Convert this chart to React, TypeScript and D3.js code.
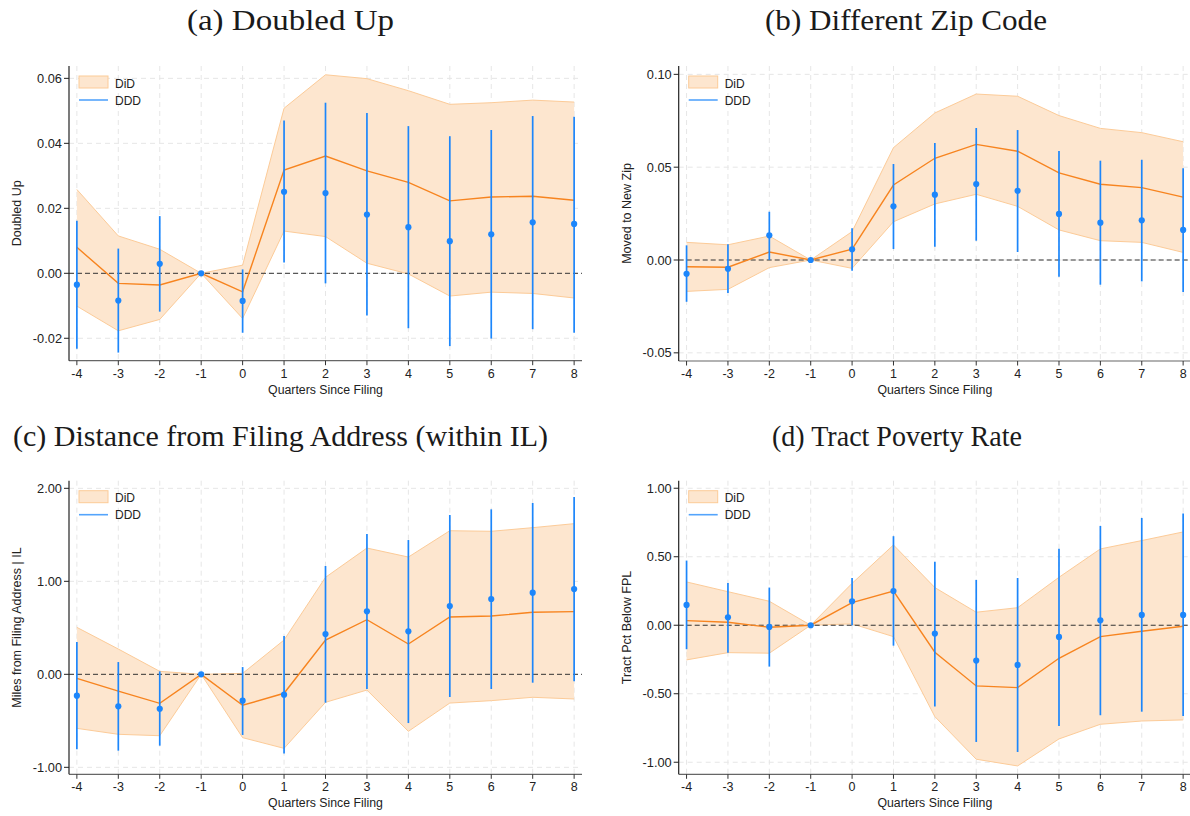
import React from 'react';
import * as d3 from 'd3';

// event time
const quarters = [-4, -3, -2, -1, 0, 1, 2, 3, 4, 5, 6, 7, 8];

// (a) Doubled Up
const didA = [0.0080, -0.0031, -0.0036, 0, -0.0057, 0.0318, 0.0361, 0.0315, 0.0280, 0.0223, 0.0235, 0.0237, 0.0225];
const didALo = [-0.0101, -0.0177, -0.0142, 0, -0.0139, 0.0130, 0.0113, 0.0031, -0.0002, -0.0070, -0.0058, -0.0062, -0.0076];
const didAHi = [0.0258, 0.0115, 0.0074, 0, 0.0025, 0.0508, 0.0611, 0.0599, 0.0562, 0.0520, 0.0525, 0.0533, 0.0527];
const dddA = [-0.0035, -0.0084, 0.0029, 0, -0.0085, 0.0251, 0.0247, 0.0181, 0.0142, 0.0099, 0.0120, 0.0157, 0.0152];
const dddALo = [-0.0232, -0.0244, -0.0118, 0, -0.0183, 0.0033, -0.0031, -0.0130, -0.0169, -0.0224, -0.0201, -0.0172, -0.0183];
const dddAHi = [0.0162, 0.0076, 0.0176, 0, 0.0012, 0.0470, 0.0525, 0.0493, 0.0453, 0.0422, 0.0441, 0.0484, 0.0482];

// (b) Different Zip Code
const didB = [-0.0036, -0.0039, 0.0043, 0, 0.0059, 0.0404, 0.0548, 0.0623, 0.0586, 0.0469, 0.0408, 0.0390, 0.0339];
const didBLo = [-0.0169, -0.0158, -0.0041, 0, -0.0045, 0.0206, 0.0302, 0.0354, 0.0289, 0.0162, 0.0104, 0.0095, 0.0041];
const didBHi = [0.0095, 0.0082, 0.0129, 0, 0.0153, 0.0605, 0.0792, 0.0894, 0.0882, 0.0778, 0.0709, 0.0686, 0.0637];
const dddB = [-0.0074, -0.0047, 0.0133, 0, 0.0058, 0.0289, 0.0352, 0.0409, 0.0373, 0.0248, 0.0201, 0.0214, 0.0162];
const dddBLo = [-0.0225, -0.0178, 0.0000, 0, -0.0058, 0.0059, 0.0072, 0.0104, 0.0043, -0.0090, -0.0133, -0.0115, -0.0172];
const dddBHi = [0.0079, 0.0085, 0.0260, 0, 0.0171, 0.0517, 0.0630, 0.0711, 0.0700, 0.0587, 0.0535, 0.0540, 0.0494];

// (c) Distance from filing address
const didC = [-0.043, -0.18, -0.312, 0, -0.333, -0.204, 0.369, 0.587, 0.326, 0.616, 0.627, 0.667, 0.674];
const didCLo = [-0.581, -0.645, -0.66, 0, -0.681, -0.796, -0.301, -0.169, -0.613, -0.309, -0.283, -0.247, -0.265];
const didCHi = [0.505, 0.272, 0.032, 0, 0.01, 0.369, 1.043, 1.358, 1.261, 1.544, 1.538, 1.577, 1.62];
const dddC = [-0.23, -0.344, -0.37, 0, -0.283, -0.219, 0.433, 0.677, 0.462, 0.734, 0.81, 0.878, 0.917];
const dddCLo = [-0.806, -0.821, -0.767, 0, -0.652, -0.85, -0.305, -0.158, -0.524, -0.244, -0.158, -0.09, -0.075];
const dddCHi = [0.347, 0.132, 0.032, 0, 0.078, 0.412, 1.165, 1.509, 1.444, 1.713, 1.774, 1.842, 1.907];

// (d) Tract poverty rate
const didD = [0.034, 0.022, -0.015, 0, 0.165, 0.25, -0.197, -0.443, -0.455, -0.241, -0.083, -0.044, -0.007];
const didDLo = [-0.253, -0.2, -0.204, 0, 0.01, -0.083, -0.667, -0.978, -1.027, -0.83, -0.723, -0.699, -0.691];
const didDHi = [0.316, 0.245, 0.175, 0, 0.306, 0.586, 0.275, 0.095, 0.128, 0.35, 0.557, 0.618, 0.681];
const dddD = [0.148, 0.058, -0.012, 0, 0.175, 0.25, -0.061, -0.258, -0.29, -0.085, 0.036, 0.075, 0.075];
const dddDLo = [-0.175, -0.2, -0.302, 0, 0.0, -0.149, -0.594, -0.852, -0.925, -0.735, -0.657, -0.631, -0.662];
const dddDHi = [0.472, 0.309, 0.275, 0, 0.345, 0.65, 0.464, 0.331, 0.345, 0.559, 0.725, 0.783, 0.815];

const yTicksA = [-0.02, 0, 0.02, 0.04, 0.06];
const yTicksB = [-0.05, 0, 0.05, 0.1];
const yTicksC = [-1, 0, 1, 2];
const yTicksD = [-1, -0.5, 0, 0.5, 1];

const sans = 'Liberation Sans, Arial, Helvetica, sans-serif';
const serif = 'Liberation Serif, Times New Roman, serif';

const bandFill = '#fde6cf';
const bandStroke = '#fccb98';
const lineColor = '#f7841f';
const blue = '#1c86fb';

const Panel = ({ box, ydom, yticks, ylab, title, did, didLo, didHi, ddd, dddLo, dddHi }) => {
  const { left, right, top, bottom, labX, titleX, titleY, titleW } = box;

  const x = d3.scaleLinear().domain([-4.19, 8.19]).range([left, right]);
  const y = d3.scaleLinear().domain(ydom).range([bottom, top]);

  const idx = quarters.map((_, i) => i);

  const area = d3.area()
    .x(i => x(quarters[i]))
    .y0(i => y(didLo[i]))
    .y1(i => y(didHi[i]));

  const line = d3.line()
    .x(i => x(quarters[i]))
    .y(i => y(did[i]));

  const upper = d3.line().x(i => x(quarters[i])).y(i => y(didHi[i]));
  const lower = d3.line().x(i => x(quarters[i])).y(i => y(didLo[i]));

  return (
    <g>
      <text x={titleX} y={titleY} textAnchor="middle" fontFamily={serif} fontSize={28.5}
        textLength={titleW} lengthAdjust="spacingAndGlyphs" fill="#1a1a1a">{title}</text>

      {/* grid */}
      {quarters.map(q => (
        <line key={'gx' + q} x1={x(q)} x2={x(q)} y1={top} y2={bottom}
          stroke="#e6e6e6" strokeDasharray="5,4" strokeWidth={1} />
      ))}
      {yticks.map(t => (
        <line key={'gy' + t} x1={left} x2={right} y1={y(t)} y2={y(t)}
          stroke="#e6e6e6" strokeDasharray="5,4" strokeWidth={1} />
      ))}

      {/* DiD band */}
      <path d={area(idx)} fill={bandFill} stroke="none" />
      <path d={upper(idx)} fill="none" stroke={bandStroke} strokeWidth={1} />
      <path d={lower(idx)} fill="none" stroke={bandStroke} strokeWidth={1} />

      <line x1={left} x2={right} y1={y(0)} y2={y(0)} stroke="#333" strokeDasharray="5,3" strokeWidth={1} />

      <path d={line(idx)} fill="none" stroke={lineColor} strokeWidth={1.4} />

      {/* DDD */}
      {idx.map(i => (
        <line key={'e' + i} x1={x(quarters[i])} x2={x(quarters[i])} y1={y(dddLo[i])} y2={y(dddHi[i])}
          stroke={blue} strokeWidth={1.7} />
      ))}
      {idx.map(i => (
        <circle key={'p' + i} cx={x(quarters[i])} cy={y(ddd[i])} r={3.1} fill={blue} />
      ))}

      {/* axes */}
      <line x1={left} x2={right} y1={bottom} y2={bottom} stroke="#666" strokeWidth={1.2} />
      {quarters.map(q => (
        <g key={'xt' + q}>
          <line x1={x(q)} x2={x(q)} y1={bottom} y2={bottom + 4.5} stroke="#333" strokeWidth={1} />
          <text x={x(q)} y={bottom + 17} textAnchor="middle" fontFamily={sans} fontSize={12.5} fill="#222">{String(q)}</text>
        </g>
      ))}
      <text x={(left + right) / 2} y={bottom + 33} textAnchor="middle" fontFamily={sans} fontSize={12.3} fill="#222">
        Quarters Since Filing
      </text>

      <line x1={left} x2={left} y1={top} y2={bottom} stroke="#222" strokeWidth={1.2} />
      {yticks.map(t => (
        <g key={'yt' + t}>
          <line x1={left - 5} x2={left} y1={y(t)} y2={y(t)} stroke="#222" strokeWidth={1} />
          <text x={left - 7} y={y(t) + 4.5} textAnchor="end" fontFamily={sans} fontSize={12.8} fill="#222">
            {t.toFixed(2)}
          </text>
        </g>
      ))}
      <text transform={`translate(${labX},${(top + bottom) / 2}) rotate(-90)`} textAnchor="middle"
        fontFamily={sans} fontSize={12.5} fill="#222">{ylab}</text>

      {/* legend */}
      <rect x={left + 10} y={top + 10} width={29} height={12} fill={bandFill} stroke={bandStroke} strokeWidth={1} />
      <text x={left + 46} y={top + 21.5} fontFamily={sans} fontSize={12} fill="#222">DiD</text>
      <line x1={left + 10} x2={left + 39} y1={top + 34} y2={top + 34} stroke={blue} strokeWidth={1.6} opacity={0.75} />
      <text x={left + 46} y={top + 38.7} fontFamily={sans} fontSize={12} fill="#222">DDD</text>
    </g>
  );
};

export default function App() {
  return (
    <svg width={1190} height={816} style={{ position: 'absolute', left: 0, top: 0, background: '#fff' }}>
      <rect width={1190} height={816} fill="#fff" />
      <Panel
        box={{ left: 69, right: 582, top: 66, bottom: 360.7, labX: 20.5, titleX: 290.5, titleY: 30, titleW: 207 }}
        ydom={[-0.0269, 0.0638]} yticks={yTicksA} ylab="Doubled Up" title="(a) Doubled Up"
        did={didA} didLo={didALo} didHi={didAHi} ddd={dddA} dddLo={dddALo} dddHi={dddAHi} />
      <Panel
        box={{ left: 678.7, right: 1191, top: 66, bottom: 361, labX: 630.7, titleX: 906, titleY: 30, titleW: 282 }}
        ydom={[-0.0544, 0.1045]} yticks={yTicksB} ylab="Moved to New Zip" title="(b) Different Zip Code"
        did={didB} didLo={didBLo} didHi={didBHi} ddd={dddB} dddLo={dddBLo} dddHi={dddBHi} />
      <Panel
        box={{ left: 69, right: 582, top: 480.7, bottom: 774.3, labX: 20.5, titleX: 280.5, titleY: 446, titleW: 535 }}
        ydom={[-1.075, 2.082]} yticks={yTicksC} ylab="Miles from Filing Address | IL" title="(c) Distance from Filing Address (within IL)"
        did={didC} didLo={didCLo} didHi={didCHi} ddd={dddC} dddLo={dddCLo} dddHi={dddCHi} />
      <Panel
        box={{ left: 678.7, right: 1191, top: 480.7, bottom: 774.3, labX: 630.7, titleX: 897, titleY: 446, titleW: 250 }}
        ydom={[-1.088, 1.055]} yticks={yTicksD} ylab="Tract Pct Below FPL" title="(d) Tract Poverty Rate"
        did={didD} didLo={didDLo} didHi={didDHi} ddd={dddD} dddLo={dddDLo} dddHi={dddDHi} />
    </svg>
  );
}
